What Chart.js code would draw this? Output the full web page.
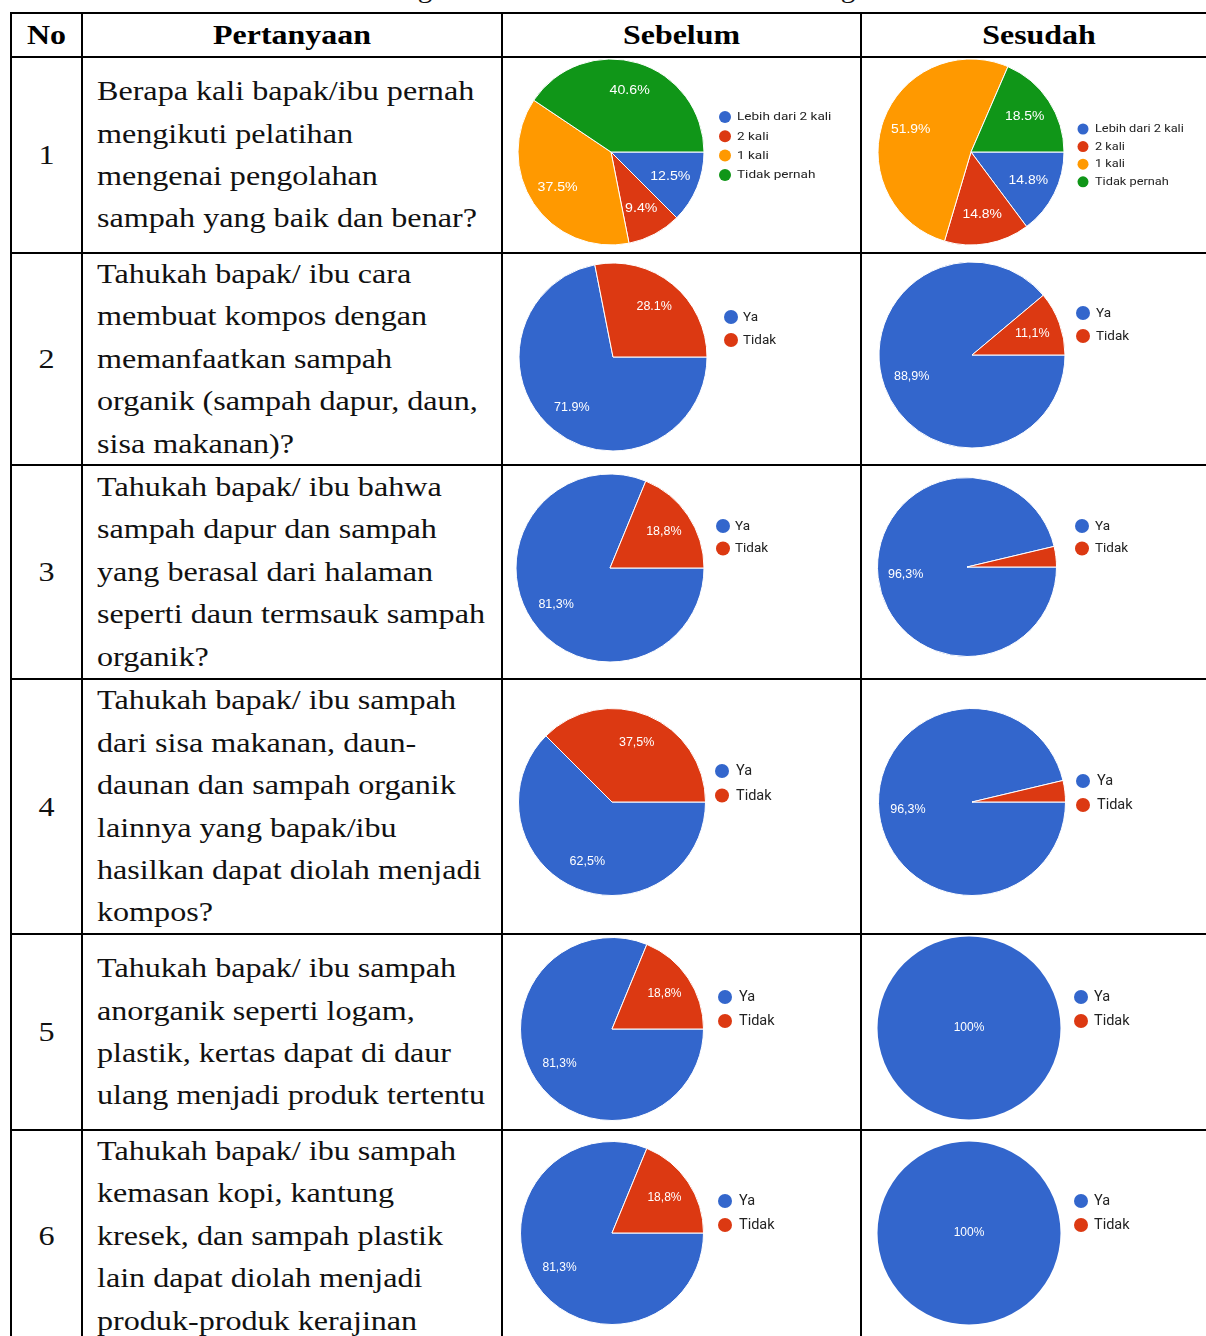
<!DOCTYPE html>
<html><head><meta charset="utf-8">
<script src="https://cdn.jsdelivr.net/npm/chart.js@4.4.0/dist/chart.umd.min.js"></script>
<style>
html,body{margin:0;padding:0;background:#fff;}
#page{position:relative;width:1206px;height:1336px;overflow:hidden;background:#fff;}
.hl{position:absolute;height:2px;background:#000;}
.vl{position:absolute;width:2px;background:#000;}
.cell{position:absolute;display:flex;align-items:center;}
.txt{font-family:"Liberation Serif","Times New Roman",serif;font-size:28px;line-height:42.4px;color:#111;white-space:nowrap;transform-origin:0 50%;transform:scaleX(1.147);}
.num{font-family:"Liberation Serif","Times New Roman",serif;font-size:28px;color:#111;width:100%;text-align:center;transform:scaleX(1.147);}
.hdr{font-family:"Liberation Serif","Times New Roman",serif;font-size:28px;font-weight:bold;color:#000;width:100%;text-align:center;transform:scaleX(1.14);}
.title{position:absolute;left:0;width:1206px;top:-26px;text-align:center;font-family:"Liberation Serif","Times New Roman",serif;font-size:28px;line-height:28px;color:#111;transform:scaleX(1.05);}
canvas{position:absolute;}
</style></head>
<body><div id="page">
<div class="title">Tabel 2. Pengetahuan Sebelum dan Sesudah Pengabdian</div>
</div>
<script>
// ---- Data ----
const headers = ['No', 'Pertanyaan', 'Sebelum', 'Sesudah'];
const questionNos = ['1', '2', '3', '4', '5', '6'];
const questions = [
  ['Berapa kali bapak/ibu pernah', 'mengikuti pelatihan', 'mengenai pengolahan', 'sampah yang baik dan benar?'],
  ['Tahukah bapak/ ibu cara', 'membuat kompos dengan', 'memanfaatkan sampah', 'organik (sampah dapur, daun,', 'sisa makanan)?'],
  ['Tahukah bapak/ ibu bahwa', 'sampah dapur dan sampah', 'yang berasal dari halaman', 'seperti daun termsauk sampah', 'organik?'],
  ['Tahukah bapak/ ibu sampah', 'dari sisa makanan, daun-', 'daunan dan sampah organik', 'lainnya yang bapak/ibu', 'hasilkan dapat diolah menjadi', 'kompos?'],
  ['Tahukah bapak/ ibu sampah', 'anorganik seperti logam,', 'plastik, kertas dapat di daur', 'ulang menjadi produk tertentu'],
  ['Tahukah bapak/ ibu sampah', 'kemasan kopi, kantung', 'kresek, dan sampah plastik', 'lain dapat diolah menjadi', 'produk-produk kerajinan']
];
const q1Labels = ['Lebih dari 2 kali', '2 kali', '1 kali', 'Tidak pernah'];
const ynLabels = ['Ya', 'Tidak'];
const q1Before = [12.5, 9.4, 37.5, 40.6];
const q1After  = [14.8, 14.8, 51.9, 18.5];
const q2Before = [71.9, 28.1];
const q2After  = [88.9, 11.1];
const q3Before = [81.3, 18.8];
const q3After  = [96.3, 3.7];
const q4Before = [62.5, 37.5];
const q4After  = [96.3, 3.7];
const q5Before = [81.3, 18.8];
const q5After  = [100, 0];
const q6Before = [81.3, 18.8];
const q6After  = [100, 0];
const decimalSep = ['.', '.', '.', ',', ',', ',', ',', ',', ',', ',', ',', ','];

// ---- Layout ----
const page = document.getElementById('page');
const rowsY = [13, 57, 253, 465, 679, 934, 1130, 1342];
const colsX = [11, 82, 502, 861, 1217];
const palette = ['#3366cc', '#dc3912', '#ff9900', '#109618'];

function add(cls, style, html) {
  const d = document.createElement('div');
  d.className = cls;
  Object.assign(d.style, style);
  if (html !== undefined) d.innerHTML = html;
  page.appendChild(d);
  return d;
}
// header
headers.forEach((h, i) => {
  const c = add('cell', {left: colsX[i] + 'px', top: rowsY[0] + 'px', width: (colsX[i+1] - colsX[i]) + 'px', height: (rowsY[1] - rowsY[0]) + 'px'});
  const t = document.createElement('div'); t.className = 'hdr'; t.textContent = h; c.appendChild(t);
});
// rows
questions.forEach((lines, r) => {
  const top = rowsY[r+1], h = rowsY[r+2] - rowsY[r+1];
  const c1 = add('cell', {left: colsX[0] + 'px', top: top + 'px', width: (colsX[1] - colsX[0]) + 'px', height: h + 'px'});
  const n = document.createElement('div'); n.className = 'num'; n.textContent = questionNos[r]; c1.appendChild(n);
  const c2 = add('cell', {left: '97px', top: top + 'px', width: '400px', height: h + 'px'});
  const t = document.createElement('div'); t.className = 'txt';
  lines.forEach((ln, k) => { if (k) t.appendChild(document.createElement('br')); t.appendChild(document.createTextNode(ln)); });
  c2.appendChild(t);
});
// grid lines
rowsY.slice(0, 7).forEach(y => add('hl', {left: (colsX[0]-1) + 'px', width: (1206 - colsX[0] + 1) + 'px', top: (y-1) + 'px'}));
colsX.slice(0, 4).forEach(x => add('vl', {left: (x-1) + 'px', top: (rowsY[0]-1) + 'px', height: (1336 - rowsY[0] + 1) + 'px'}));

// ---- Plugins ----
const sliceLabels = {
  id: 'gLabels',
  afterDatasetsDraw(chart, args, o) {
    const ctx = chart.ctx;
    const meta = chart.getDatasetMeta(0);
    const data = chart.data.datasets[0].data;
    ctx.save();
    ctx.fillStyle = '#ffffff';
    ctx.font = o.font + 'px Arial, "Liberation Sans", sans-serif';
    ctx.textAlign = 'center';
    ctx.textBaseline = 'middle';
    meta.data.forEach((arc, i) => {
      const v = data[i];
      if (v < 5) return;
      const p = arc.getProps(['x', 'y', 'startAngle', 'endAngle', 'outerRadius'], true);
      const txt = (v >= 100 ? '100' : v.toFixed(1).replace('.', o.sep)) + '%';
      let x = p.x, y = p.y;
      if (v < 100) {
        const a = (p.startAngle + p.endAngle) / 2;
        x += Math.cos(a) * p.outerRadius * o.factor;
        y += Math.sin(a) * p.outerRadius * o.factor;
      }
      ctx.save();
      ctx.translate(x, y);
      ctx.scale(o.stretch, 1);
      ctx.fillText(txt, 0, 0);
      ctx.restore();
    });
    ctx.restore();
  }
};
const sideLegend = {
  id: 'gLegend',
  afterDraw(chart, args, o) {
    const ctx = chart.ctx;
    const ds = chart.data.datasets[0];
    ctx.save();
    ctx.font = o.font + 'px Roboto, Arial, sans-serif';
    ctx.textBaseline = 'middle';
    ctx.textAlign = 'left';
    chart.data.labels.forEach((lab, i) => {
      const y = o.y + i * o.step;
      ctx.beginPath();
      ctx.fillStyle = ds.backgroundColor[i];
      ctx.arc(o.dotX, y, o.dot, 0, Math.PI * 2);
      ctx.fill();
      ctx.fillStyle = '#222222';
      ctx.save();
      ctx.translate(o.textX, y + 0.5);
      ctx.scale(o.stretch, 1);
      ctx.fillText(lab, 0, 0);
      ctx.restore();
    });
    ctx.restore();
  }
};

// ---- Charts ----
const chartDefs = [
  {row:0, col:0, labels:q1Labels, values:q1Before, cx:611, cy:152, r:93, dotX:725, ly:117, step:19.3, font:11.5, dot:6, textX:737, lf:12, st:1.18},
  {row:0, col:1, labels:q1Labels, values:q1After,  cx:971, cy:152, r:93, dotX:1083, ly:129, step:17.6, font:11, dot:5.5, textX:1095, lf:12, st:1.16},
  {row:1, col:0, labels:ynLabels, values:q2Before, cx:613, cy:357, r:94, dotX:731, ly:317, step:23, font:13.5, dot:7, textX:743, lf:12.5, st:1},
  {row:1, col:1, labels:ynLabels, values:q2After,  cx:972, cy:355, r:93, dotX:1083, ly:313, step:23, font:13.5, dot:7, textX:1096, lf:12.5, st:1},
  {row:2, col:0, labels:ynLabels, values:q3Before, cx:610, cy:568, r:94, dotX:723, ly:526, step:22.5, font:13.5, dot:7, textX:735, lf:12.5, st:1},
  {row:2, col:1, labels:ynLabels, values:q3After,  cx:967, cy:567, r:89.5, dotX:1082, ly:526, step:22.5, font:13.5, dot:7, textX:1095, lf:12.5, st:1},
  {row:3, col:0, labels:ynLabels, values:q4Before, cx:612, cy:802, r:93.5, dotX:722, ly:771, step:24.5, font:14.5, dot:7, textX:736, lf:12.5, st:1},
  {row:3, col:1, labels:ynLabels, values:q4After,  cx:972, cy:802, r:93.5, dotX:1083, ly:781, step:24, font:14.5, dot:7, textX:1097, lf:12.5, st:1},
  {row:4, col:0, labels:ynLabels, values:q5Before, cx:612, cy:1029, r:91.5, dotX:725, ly:997, step:24, font:14.5, dot:7, textX:739, lf:12, st:1},
  {row:4, col:1, labels:ynLabels, values:q5After,  cx:969, cy:1028, r:91, dotX:1081, ly:997, step:24, font:14.5, dot:7, textX:1094, lf:12, st:1},
  {row:5, col:0, labels:ynLabels, values:q6Before, cx:612, cy:1233, r:91.5, dotX:725, ly:1201, step:24, font:14.5, dot:7, textX:739, lf:12, st:1},
  {row:5, col:1, labels:ynLabels, values:q6After,  cx:969, cy:1233, r:91, dotX:1081, ly:1201, step:24, font:14.5, dot:7, textX:1094, lf:12, st:1}
];

chartDefs.forEach((d, k) => {
  const x0 = colsX[2 + d.col] + 1, x1 = Math.min(colsX[3 + d.col] - 1, 1206);
  const y0 = rowsY[d.row + 1] + 1, y1 = Math.min(rowsY[d.row + 2] - 1, 1336);
  const w = x1 - x0, h = y1 - y0;
  const cv = document.createElement('canvas');
  cv.width = w; cv.height = h;
  cv.style.left = x0 + 'px'; cv.style.top = y0 + 'px';
  cv.style.width = w + 'px'; cv.style.height = h + 'px';
  page.appendChild(cv);
  const R = d.r + 0.5;
  new Chart(cv, {
    type: 'pie',
    data: {
      labels: d.labels,
      datasets: [{
        data: d.values,
        backgroundColor: palette.slice(0, d.values.length),
        borderColor: '#ffffff',
        borderWidth: c => (c.raw > 0 && c.raw < 100 ? 1 : 0)
      }]
    },
    options: {
      responsive: false,
      animation: false,
      devicePixelRatio: 1,
      rotation: 90,
      layout: {padding: {left: d.cx - R - x0, top: d.cy - R - y0, right: x1 - (d.cx + R), bottom: y1 - (d.cy + R)}},
      plugins: {
        legend: {display: false},
        tooltip: {enabled: false},
        gLabels: {sep: decimalSep[k], factor: 0.69, font: d.lf, stretch: d.st},
        gLegend: {dotX: d.dotX - x0, y: d.ly - y0, step: d.step, font: d.font, dot: d.dot, textX: d.textX - x0, stretch: d.st}
      }
    },
    plugins: [sliceLabels, sideLegend]
  });
});
</script>
</body></html>
